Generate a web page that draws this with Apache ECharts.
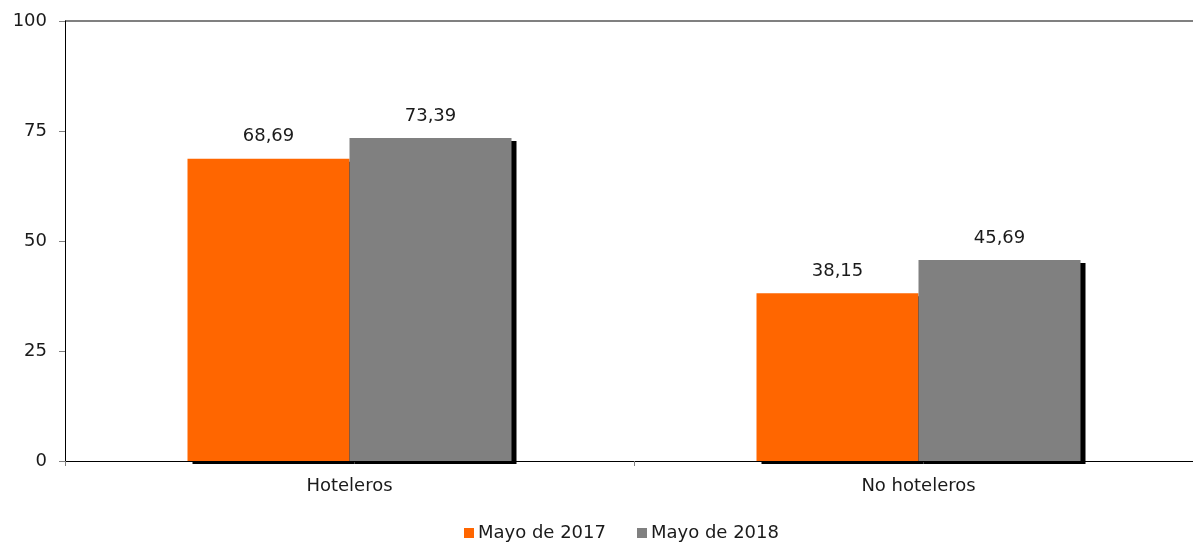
<!DOCTYPE html>
<html>
<head>
<meta charset="utf-8">
<script src="https://cdn.jsdelivr.net/npm/echarts@6/dist/echarts.min.js"></script>
<style>
  html, body { margin: 0; padding: 0; background: #fff; overflow: hidden; }
  #chart { width: 1213px; height: 542px; }
</style>
</head>
<body>
<div id="chart"></div>
<script>
// Hoteleros vs no hoteleros, mayo 2017 / 2018

const CATEGORIES = ['Hoteleros', 'No hoteleros'];
const SERIES_NAMES = ['Mayo de 2017', 'Mayo de 2018'];
const VALUES_2017 = [68.69, 38.15];
const VALUES_2018 = [73.39, 45.69];
const Y_TICKS = [0, 25, 50, 75, 100];

const FONT = 'DejaVu Sans';
const TEXT = '#1a1a1a';

// el área de trazado sobresale un poco del borde derecho, como en el original
const chart = echarts.init(document.getElementById('chart'), null, { renderer: 'canvas' });

function barSeries(name, data, color) {
  return {
    name,
    type: 'bar',
    data,
    barWidth: 162,
    barGap: '0%',
    itemStyle: {
      color,
      shadowColor: '#000',
      shadowBlur: 0,
      shadowOffsetX: 5,
      shadowOffsetY: 3
    },
    label: {
      show: true,
      position: 'top',
      distance: 13,
      fontFamily: FONT,
      fontSize: 18,
      color: TEXT,
      formatter: (p) => p.value.toFixed(2).replace('.', ',')
    }
  };
}

chart.setOption({
  animation: false,
  textStyle: { fontFamily: FONT },
  grid: { left: 65, top: 21, width: 1138, height: 440 },
  legend: {
    data: SERIES_NAMES,
    left: 459,
    top: 519,
    icon: 'rect',
    itemWidth: 10,
    itemHeight: 10,
    itemGap: 31,
    textStyle: { fontFamily: FONT, fontSize: 18, color: TEXT, padding: [0, 0, 0, -1] }
  },
  xAxis: {
    type: 'category',
    data: CATEGORIES,
    axisLine: { lineStyle: { color: '#000', width: 1 } },
    axisTick: { show: true, length: 5, lineStyle: { color: '#808080' } },
    axisLabel: { fontFamily: FONT, fontSize: 18, color: TEXT, margin: 16 }
  },
  yAxis: {
    type: 'value',
    min: Y_TICKS[0],
    max: Y_TICKS[Y_TICKS.length - 1],
    interval: 25,
    axisLine: { show: true, lineStyle: { color: '#000', width: 1 } },
    axisTick: { show: true, length: 6, lineStyle: { color: '#808080' } },
    axisLabel: { fontFamily: FONT, fontSize: 18, color: TEXT, margin: 18 },
    splitLine: {
      show: true,
      // solo la línea superior (marco del área de trazado)
      lineStyle: { color: ['rgba(0,0,0,0)', 'rgba(0,0,0,0)', 'rgba(0,0,0,0)', 'rgba(0,0,0,0)', '#808080'], width: 2 }
    }
  },
  series: [
    barSeries(SERIES_NAMES[0], VALUES_2017, '#FF6600'),
    barSeries(SERIES_NAMES[1], VALUES_2018, '#808080')
  ]
});
</script>
</body>
</html>
